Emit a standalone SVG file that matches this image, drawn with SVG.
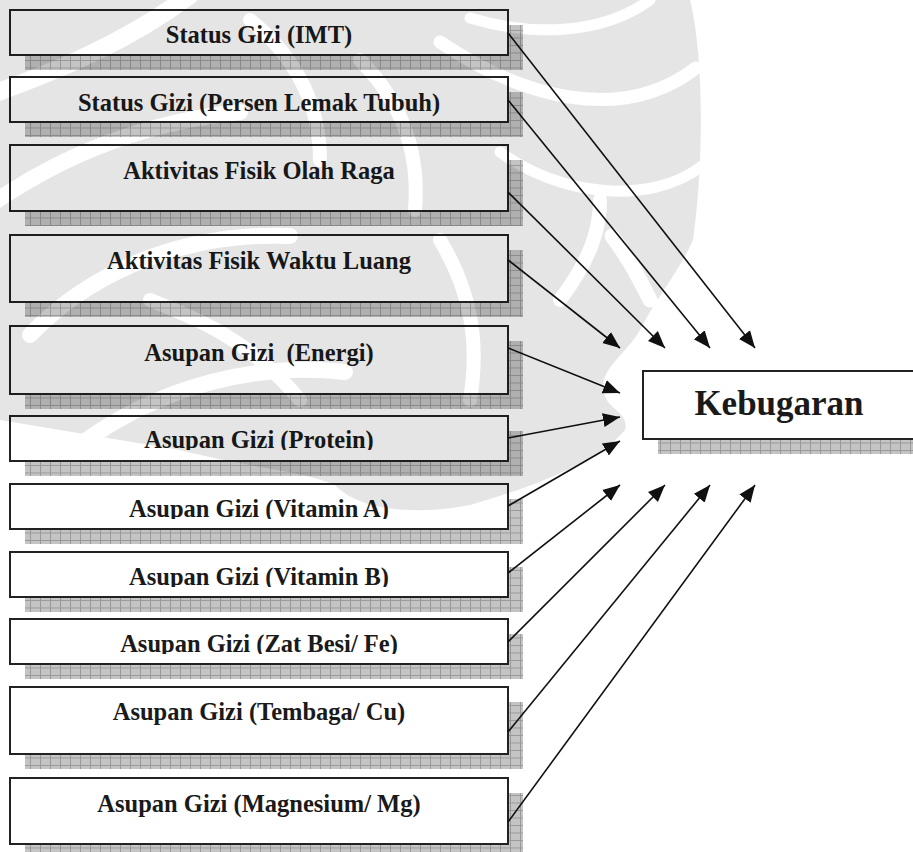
<svg xmlns="http://www.w3.org/2000/svg" width="913" height="852" viewBox="0 0 913 852">
<defs>
<style>
.box{fill:#fff;stroke:#222;stroke-width:2}
.sh{fill:url(#hatch)}
.t{font-family:"Liberation Serif","Times New Roman",serif;font-weight:bold;font-size:24.5px;fill:#1a1a1a;text-anchor:middle}
.big{font-size:35px}
.c{stroke:#111;stroke-width:1.6;fill:none;marker-end:url(#ah)}
.gap{fill:none;stroke:#000;stroke-linecap:round}
</style>
<pattern id="hatch" width="10" height="7.5" patternUnits="userSpaceOnUse">
<rect width="10" height="7.5" fill="#c4c4c4"/>
<path d="M0 0.5H10M0.5 0V7.5" stroke="#999" stroke-width="1"/>
</pattern>
<marker id="ah" markerUnits="userSpaceOnUse" markerWidth="18" markerHeight="15" refX="17" refY="7.5" orient="auto">
<path d="M0 0.5L17 7.5L0 14.5z" fill="#111"/>
</marker>
<clipPath id="cp6"><rect x="10" y="416" width="498" height="34"/></clipPath>
<clipPath id="cp7"><rect x="10" y="484" width="498" height="35"/></clipPath>
<clipPath id="cp8"><rect x="10" y="552" width="498" height="35"/></clipPath>
<clipPath id="cp9"><rect x="10" y="619" width="498" height="35"/></clipPath>
<mask id="wm" maskUnits="userSpaceOnUse" x="0" y="0" width="913" height="852">
<path d="M0 0H690C705 60 703 170 693 240C680 270 655 300 640 330C625 355 605 365 603 385C602 410 630 410 625 430C600 460 540 485 470 505C420 515 360 512 335 485C300 470 250 468 180 450C120 440 60 430 0 420Z" fill="#fff"/>
<path class="gap" stroke-width="11" d="M470 18C530 36 600 36 650 0"/>
<path class="gap" stroke-width="13" d="M440 42C520 96 620 126 696 68"/>
<path class="gap" stroke-width="11" d="M500 152C560 196 650 206 702 166"/>
<path class="gap" stroke-width="15" d="M612 236C630 260 640 280 650 300"/>
<path class="gap" stroke-width="18" d="M-10 95C60 70 130 40 190 -5"/>
<path class="gap" stroke-width="16" d="M-10 205C70 150 150 122 240 112"/>
<path class="gap" stroke-width="16" d="M30 335C100 262 200 232 290 236"/>
<path class="gap" stroke-width="16" d="M80 445C160 385 260 362 345 372"/>
<path class="gap" stroke-width="14" d="M560 300C590 260 600 230 600 200"/>
<path class="gap" stroke-width="14" d="M360 60C400 100 420 150 415 210"/>
<path class="gap" stroke-width="14" d="M250 20C300 60 320 110 320 160"/>
<path class="gap" stroke-width="14" d="M440 240C470 290 480 340 470 400"/>
<path class="gap" stroke-width="14" d="M150 300C200 320 250 340 300 400"/>
</mask>
</defs>
<rect width="913" height="852" fill="#fff"/>

<g id="n1"><rect class="sh" x="25" y="25" width="498" height="45"/><rect class="box" x="10" y="10" width="498" height="45"/><text class="t" x="259" y="43">Status Gizi (IMT)</text></g>
<g id="n2"><rect class="sh" x="25" y="92" width="498" height="45"/><rect class="box" x="10" y="77" width="498" height="45"/><text class="t" x="259" y="111">Status Gizi (Persen Lemak Tubuh)</text></g>
<g id="n3"><rect class="sh" x="25" y="160" width="498" height="66"/><rect class="box" x="10" y="145" width="498" height="66"/><text class="t" x="259" y="179">Aktivitas Fisik Olah Raga</text></g>
<g id="n4"><rect class="sh" x="25" y="250" width="498" height="67"/><rect class="box" x="10" y="235" width="498" height="67"/><text class="t" x="259" y="269">Aktivitas Fisik Waktu Luang</text></g>
<g id="n5"><rect class="sh" x="25" y="341" width="498" height="68"/><rect class="box" x="10" y="326" width="498" height="68"/><text class="t" x="259" y="361" xml:space="preserve">Asupan Gizi  (Energi)</text></g>
<g id="n6"><rect class="sh" x="25" y="431" width="498" height="45"/><rect class="box" x="10" y="416" width="498" height="45"/><text class="t" x="259" y="448" clip-path="url(#cp6)">Asupan Gizi (Protein)</text></g>
<g id="n7"><rect class="sh" x="25" y="499" width="498" height="45"/><rect class="box" x="10" y="484" width="498" height="45"/><text class="t" x="259" y="517" clip-path="url(#cp7)">Asupan Gizi (Vitamin A)</text></g>
<g id="n8"><rect class="sh" x="25" y="567" width="498" height="45"/><rect class="box" x="10" y="552" width="498" height="45"/><text class="t" x="259" y="585" clip-path="url(#cp8)">Asupan Gizi (Vitamin B)</text></g>
<g id="n9"><rect class="sh" x="25" y="634" width="498" height="45"/><rect class="box" x="10" y="619" width="498" height="45"/><text class="t" x="259" y="652" clip-path="url(#cp9)">Asupan Gizi (Zat Besi/ Fe)</text></g>
<g id="n10"><rect class="sh" x="25" y="702" width="498" height="67"/><rect class="box" x="10" y="687" width="498" height="67"/><text class="t" x="259" y="720">Asupan Gizi (Tembaga/ Cu)</text></g>
<g id="n11"><rect class="sh" x="25" y="793" width="498" height="66"/><rect class="box" x="10" y="778" width="498" height="66"/><text class="t" x="259" y="812">Asupan Gizi (Magnesium/ Mg)</text></g>
<g id="kebugaran"><rect class="sh" x="658" y="386" width="280" height="68"/><rect class="box" x="643" y="371" width="290" height="68"/><text class="t big" x="779" y="415">Kebugaran</text></g>

<g id="connectors">
<line class="c" x1="508" y1="33" x2="755" y2="348"/>
<line class="c" x1="508" y1="100" x2="710" y2="348"/>
<line class="c" x1="508" y1="192" x2="665" y2="348"/>
<line class="c" x1="508" y1="260" x2="620" y2="348"/>
<line class="c" x1="508" y1="348" x2="620" y2="393"/>
<line class="c" x1="508" y1="438" x2="620" y2="417"/>
<line class="c" x1="508" y1="506" x2="620" y2="441"/>
<line class="c" x1="508" y1="573" x2="620" y2="485"/>
<line class="c" x1="508" y1="642" x2="665" y2="485"/>
<line class="c" x1="508" y1="732" x2="710" y2="485"/>
<line class="c" x1="508" y1="822" x2="755" y2="485"/>
</g>

<g id="watermark"><rect width="913" height="852" fill="#000" fill-opacity="0.1" mask="url(#wm)"/></g>
</svg>
